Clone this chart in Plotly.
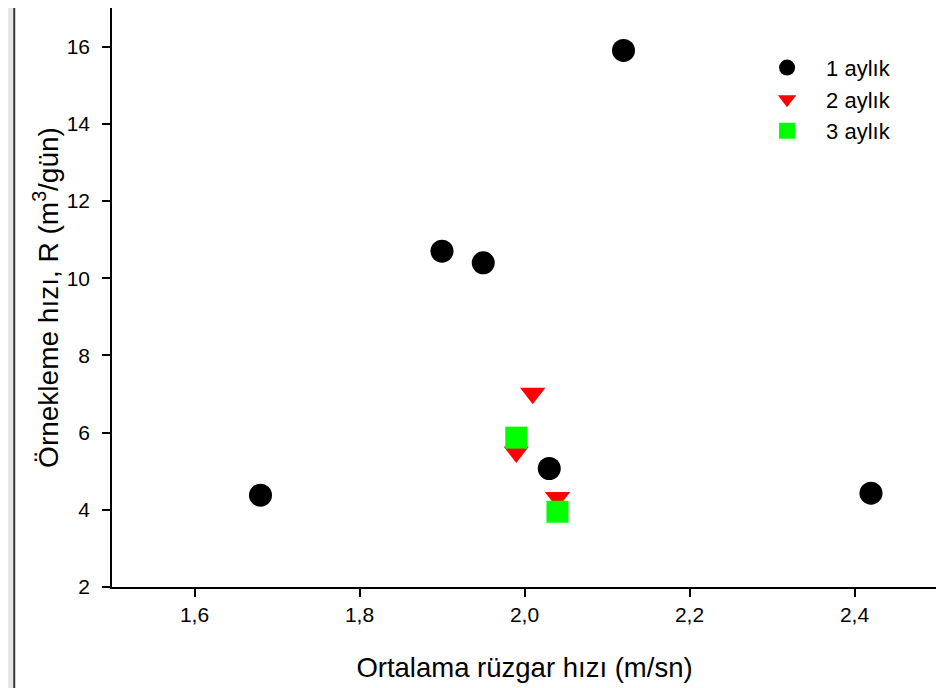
import plotly.graph_objects as go

# Data
x1 = [1.68, 1.90, 1.95, 2.12, 2.03, 2.42]
y1 = [4.38, 10.70, 10.40, 15.90, 5.07, 4.43]
x2 = [2.01, 1.99, 2.04]
y2 = [7.02, 5.50, 4.32]
x3 = [1.99, 2.04]
y3 = [5.87, 3.95]
names = ["1 aylık", "2 aylık", "3 aylık"]

x_ticks = [1.6, 1.8, 2.0, 2.2, 2.4]
y_ticks = [2, 4, 6, 8, 10, 12, 14, 16]

FONT = "Arial, Liberation Sans, sans-serif"

fig = go.Figure()
fig.add_trace(go.Scatter(x=x1, y=y1, mode="markers", name=names[0], legendgroup="a",
                         marker=dict(symbol="circle", size=23, color="black", line=dict(width=0))))
fig.add_trace(go.Scatter(x=x2, y=y2, mode="markers", name=names[1], legendgroup="b",
                         marker=dict(symbol="triangle-down", size=22, color="#ff0000", line=dict(width=0))))
fig.add_trace(go.Scatter(x=x3, y=y3, mode="markers", name=names[2], legendgroup="c",
                         marker=dict(symbol="square", size=22, color="#00ff00", line=dict(width=0))))

axis_common = dict(showgrid=False, zeroline=False, showline=True, linecolor="black", linewidth=1.5,
                   mirror=True, ticks="outside", ticklen=8, tickwidth=1.5, tickcolor="black",
                   automargin=False,
                   tickfont=dict(family=FONT, size=21, color="black"))

fig.update_xaxes(range=[1.5, 2.5], tickvals=x_ticks, tickformat=".1f", ticklabelstandoff=0,
                 title=dict(text="Ortalama rüzgar hızı (m/sn)",
                            font=dict(family=FONT, size=27.5, color="black"), standoff=33),
                 **axis_common)
fig.update_yaxes(range=[2, 17], tickvals=y_ticks, ticklabelstandoff=8,
                 title=dict(text="Örnekleme hızı, R (m<sup>3</sup>/gün)",
                            font=dict(family=FONT, size=28, color="black"), standoff=0),
                 **axis_common)

# page frame strips
fig.add_shape(type="rect", xref="paper", yref="paper", x0=-0.127, x1=-0.12, y0=-0.2, y1=1.02,
              fillcolor="#e6e6e6", line=dict(width=0), layer="below")
fig.add_shape(type="line", xref="paper", yref="paper", x0=-0.1185, x1=-0.1185, y0=-0.2, y1=1.02,
              line=dict(color="#333333", width=2))
fig.add_shape(type="rect", xref="paper", yref="paper", x0=1.0036, x1=1.01, y0=-0.2, y1=1.02,
              fillcolor="#dddddd", line=dict(width=0), layer="below")

fig.update_layout(
    width=936, height=680,
    margin=dict(l=104, r=7, t=0, b=101),
    paper_bgcolor="white", plot_bgcolor="white",
    separators=",.",
    showlegend=True,
    legend=dict(x=0.771, y=0.933, xanchor="left", yanchor="top", bgcolor="rgba(0,0,0,0)",
                font=dict(family=FONT, size=22, color="black"),
                tracegroupgap=0, itemwidth=68, itemsizing="trace"),
)

fig.write_html("out.html")
